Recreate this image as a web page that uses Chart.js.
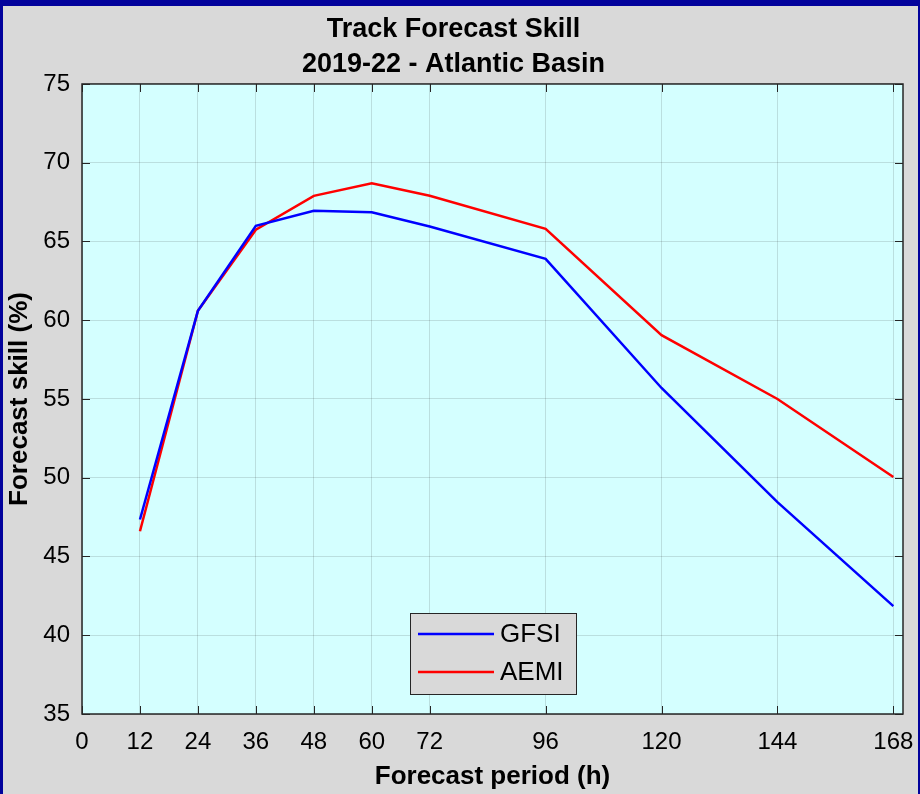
<!DOCTYPE html>
<html>
<head>
<meta charset="utf-8">
<script src="https://cdn.jsdelivr.net/npm/chart.js@4.4.1/dist/chart.umd.min.js"></script>
<style>
  html, body { margin: 0; padding: 0; background: #02029c; }
  #wrap { width: 920px; height: 794px; }
</style>
</head>
<body>
<div id="wrap"><canvas id="myChart" width="920" height="794"></canvas></div>
<script>
// forecast lead times (h)
const hours = [12, 24, 36, 48, 60, 72, 96, 120, 144, 168];
// track forecast skill (%)
const gfsi = [47.35, 60.6, 66.0, 66.95, 66.85, 65.95, 63.9, 55.7, 48.45, 41.85];
const aemi = [46.6, 60.6, 65.75, 67.9, 68.7, 67.9, 65.8, 59.05, 55.0, 50.05];
const xTicks = [0, 12, 24, 36, 48, 60, 72, 96, 120, 144, 168];
const titleLines = ["Track Forecast Skill", "2019-22 - Atlantic Basin"];

const FONT = "'Liberation Sans', Arial, sans-serif";
const AXIS_COLOR = "#262626";

function points( ys ){
  return hours.map( (h, i) => ({ x: h, y: ys[i] }) );
}

// figure background: blue frame, grey figure, cyan axes
const backgroundPlugin = {
  id: "matlabBackground",
  beforeDraw( chart ){
    let ctx = chart.ctx;
    let a = chart.chartArea;
    ctx.save();
    ctx.fillStyle = "#02029c";
    ctx.fillRect( 0, 0, chart.width, chart.height );
    ctx.fillStyle = "#d9d9d9";
    ctx.fillRect( 3, 6, chart.width - 5, chart.height - 6 );
    ctx.fillStyle = "#d4ffff";
    ctx.fillRect( a.left, a.top, a.right - a.left, a.bottom - a.top );
    ctx.restore();
  }
};

// box around axes with inward tick marks on all four sides
const boxPlugin = {
  id: "matlabBox",
  afterDatasetsDraw( chart ){
    let ctx = chart.ctx;
    let a = chart.chartArea;
    let xs = chart.scales.x, ys = chart.scales.y;
    let len = 8;
    ctx.save();
    ctx.strokeStyle = AXIS_COLOR;
    ctx.lineWidth = 1;
    ctx.beginPath();
    xs.ticks.forEach( t => {
      let px = Math.round( xs.getPixelForValue( t.value ) ) + 0.5;
      ctx.moveTo( px, a.bottom ); ctx.lineTo( px, a.bottom - len );
      ctx.moveTo( px, a.top );    ctx.lineTo( px, a.top + len );
    });
    ys.ticks.forEach( t => {
      let py = Math.round( ys.getPixelForValue( t.value ) ) + 0.5;
      ctx.moveTo( a.left, py );  ctx.lineTo( a.left + len, py );
      ctx.moveTo( a.right, py ); ctx.lineTo( a.right - len, py );
    });
    ctx.stroke();
    ctx.lineWidth = 1.5;
    ctx.strokeRect( a.left, a.top, a.right - a.left, a.bottom - a.top );
    ctx.restore();
  }
};

// legend box inside the axes, like matlab's legend
const legendPlugin = {
  id: "matlabLegend",
  afterDraw( chart ){
    let ctx = chart.ctx;
    let a = chart.chartArea;
    let x0 = a.left + 328, y0 = a.bottom - 101;
    let w = 166, h = 81;
    ctx.save();
    ctx.fillStyle = "#d9d9d9";
    ctx.fillRect( x0, y0, w, h );
    ctx.strokeStyle = AXIS_COLOR;
    ctx.lineWidth = 1;
    ctx.strokeRect( x0 + 0.5, y0 + 0.5, w, h );
    ctx.font = "26px " + FONT;
    ctx.textBaseline = "middle";
    chart.data.datasets.forEach( (ds, i) => {
      let y = y0 + 21 + i * 38;
      ctx.strokeStyle = ds.borderColor;
      ctx.lineWidth = 2.5;
      ctx.beginPath();
      ctx.moveTo( x0 + 8, y );
      ctx.lineTo( x0 + 84, y );
      ctx.stroke();
      ctx.fillStyle = "#000000";
      ctx.fillText( ds.label, x0 + 90, y + 1 );
    });
    ctx.restore();
  }
};

window.addEventListener("load", () => {
  let ctx = document.getElementById("myChart").getContext("2d");
  let data = {
    datasets: [
      {
        label: "GFSI",
        data: points( gfsi ),
        borderColor: "#0000ff",
        borderWidth: 2.5,
        pointRadius: 0,
        tension: 0
      },
      {
        label: "AEMI",
        data: points( aemi ),
        borderColor: "#ff0000",
        borderWidth: 2.5,
        pointRadius: 0,
        tension: 0
      }
    ]
  };
  let config = {
    type: "line",
    data: data,
    options: {
      responsive: false,
      animation: false,
      layout: { padding: { left: 4, right: 17, top: 0, bottom: 0 } },
      plugins: {
        legend: { display: false },
        tooltip: { enabled: false },
        title: {
          display: true,
          text: titleLines,
          color: "#000000",
          font: { family: FONT, size: 27, weight: "bold", lineHeight: 1.285 },
          padding: { top: 12.5, bottom: 2.1 }
        }
      },
      scales: {
        x: {
          type: "linear",
          min: 0,
          max: 170,
          afterBuildTicks: s => { s.ticks = xTicks.map( v => ({ value: v }) ); },
          afterFit: s => { s.height = 80; s.paddingLeft = 0; s.paddingRight = 0; },
          ticks: {
            autoSkip: false,
            maxRotation: 0,
            color: "#000000",
            padding: 14,
            font: { family: FONT, size: 24 },
            callback: v => v
          },
          grid: { color: "rgba(38,38,38,0.15)", drawTicks: false },
          border: { display: false },
          title: {
            display: true,
            text: "Forecast period (h)",
            color: "#000000",
            font: { family: FONT, size: 26, weight: "bold" },
            padding: { top: 0, bottom: 2 }
          }
        },
        y: {
          min: 35,
          max: 75,
          afterFit: s => { s.width = 78; },
          ticks: {
            stepSize: 5,
            color: "#000000",
            padding: 12,
            font: { family: FONT, size: 24 }
          },
          grid: { color: "rgba(38,38,38,0.15)", drawTicks: false },
          border: { display: false },
          title: {
            display: true,
            text: "Forecast skill (%)",
            color: "#000000",
            font: { family: FONT, size: 26, weight: "bold" },
            padding: { top: 0, bottom: 0 }
          }
        }
      }
    },
    plugins: [ backgroundPlugin, boxPlugin, legendPlugin ]
  };
  new Chart( ctx, config );
});
</script>
</body>
</html>
